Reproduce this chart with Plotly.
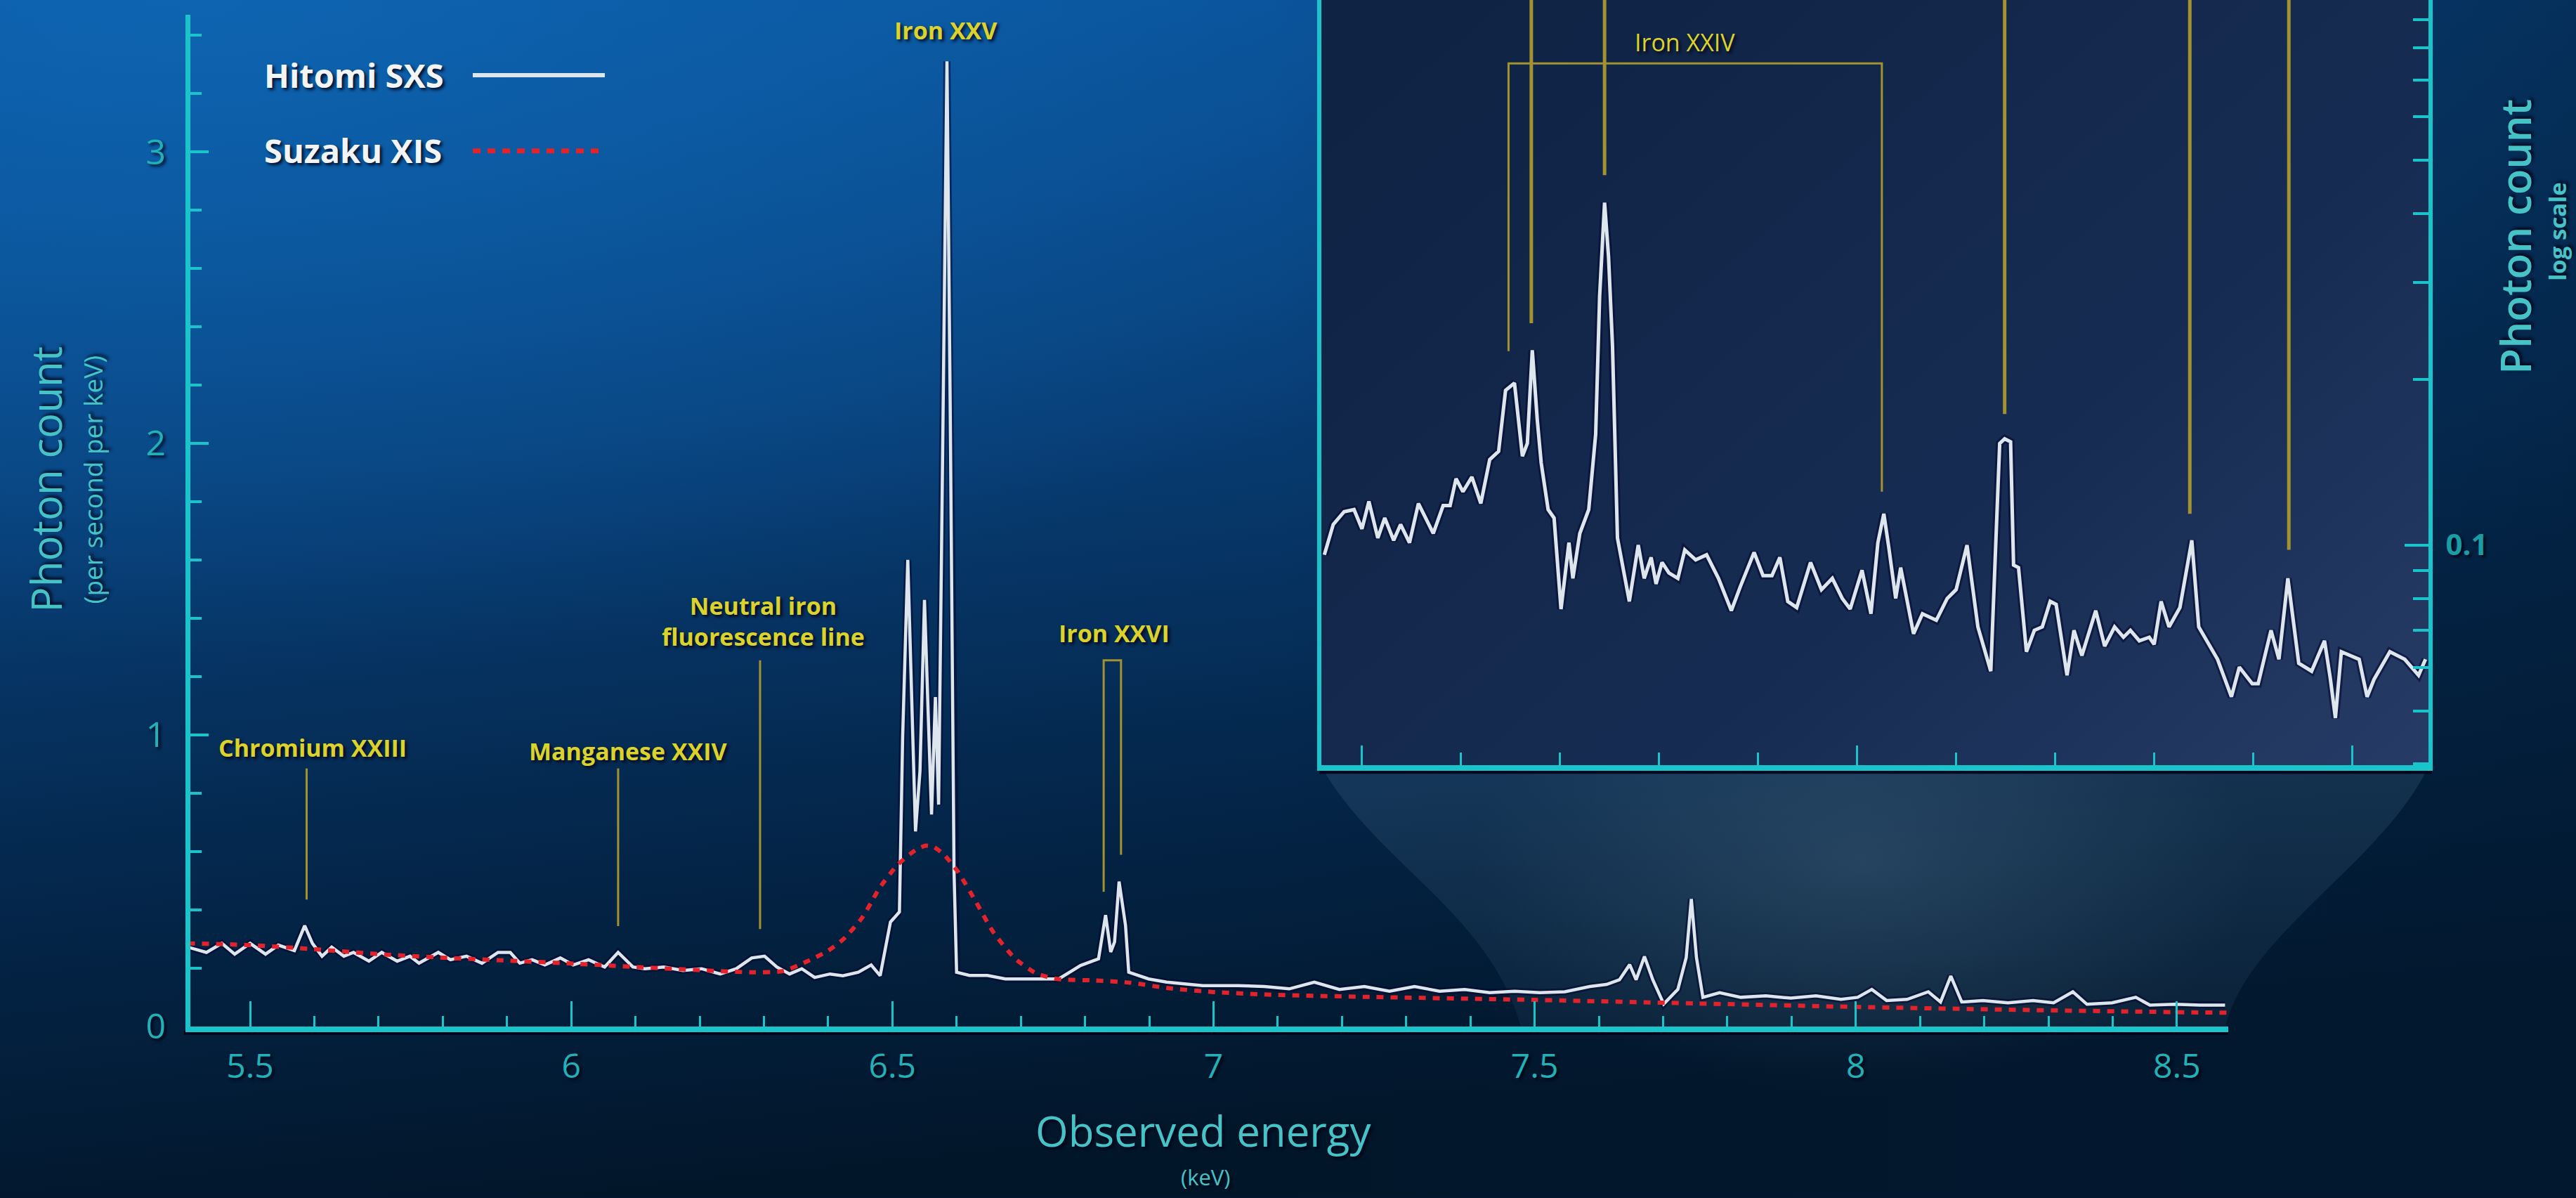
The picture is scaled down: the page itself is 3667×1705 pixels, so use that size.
import math
import base64
import plotly.graph_objects as go

W, H = 3667, 1705
SY = 0.982  # measured vertical compression of the rendered page; positions are pre-compensated

# ---------------- data ----------------
hitomi_energy = [5.403, 5.432, 5.456, 5.476, 5.500, 5.524, 5.544, 5.569, 5.585, 5.597, 5.612, 5.627,
                 5.646, 5.661, 5.685, 5.705, 5.729, 5.749, 5.763, 5.793, 5.812, 5.837, 5.861, 5.886,
                 5.905, 5.920, 5.939, 5.959, 5.983, 6.003, 6.027, 6.052, 6.073, 6.096, 6.115, 6.144,
                 6.174, 6.203, 6.232, 6.257, 6.281, 6.301, 6.320, 6.340, 6.359, 6.379, 6.403, 6.423,
                 6.447, 6.467, 6.481, 6.497, 6.511, 6.516, 6.524, 6.532, 6.536, 6.543, 6.550, 6.557,
                 6.561, 6.567, 6.572, 6.578, 6.585, 6.590, 6.596, 6.600, 6.620, 6.648, 6.676, 6.703,
                 6.731, 6.759, 6.793, 6.821, 6.832, 6.840, 6.846, 6.853, 6.863, 6.868, 6.899, 6.927,
                 6.983, 7.038, 7.079, 7.118, 7.157, 7.196, 7.235, 7.274, 7.313, 7.352, 7.391, 7.430,
                 7.469, 7.508, 7.547, 7.586, 7.612, 7.632, 7.648, 7.658, 7.671, 7.684, 7.701, 7.723,
                 7.736, 7.744, 7.752, 7.762, 7.788, 7.821, 7.860, 7.899, 7.938, 7.977, 8.003, 8.025,
                 8.048, 8.080, 8.113, 8.132, 8.148, 8.165, 8.198, 8.237, 8.276, 8.308, 8.338, 8.360,
                 8.399, 8.436, 8.458, 8.497, 8.536, 8.575]
hitomi_count = [0.272, 0.254, 0.285, 0.248, 0.285, 0.248, 0.279, 0.260, 0.346, 0.285, 0.241, 0.272,
                0.241, 0.254, 0.224, 0.254, 0.224, 0.241, 0.217, 0.254, 0.229, 0.241, 0.217, 0.254,
                0.254, 0.217, 0.229, 0.211, 0.235, 0.211, 0.229, 0.204, 0.254, 0.204, 0.198, 0.204,
                0.192, 0.198, 0.180, 0.198, 0.235, 0.241, 0.204, 0.180, 0.198, 0.168, 0.180, 0.174,
                0.186, 0.211, 0.174, 0.358, 0.393, 0.991, 1.600, 0.968, 0.669, 0.876, 1.463, 0.991,
                0.727, 1.130, 0.761, 1.911, 3.310, 2.140, 0.531, 0.186, 0.175, 0.175, 0.163, 0.163,
                0.163, 0.163, 0.209, 0.232, 0.382, 0.255, 0.290, 0.497, 0.347, 0.186, 0.163, 0.152,
                0.140, 0.140, 0.137, 0.129, 0.152, 0.127, 0.137, 0.121, 0.137, 0.121, 0.127, 0.116,
                0.121, 0.116, 0.119, 0.137, 0.144, 0.160, 0.212, 0.160, 0.240, 0.160, 0.077, 0.127,
                0.236, 0.437, 0.236, 0.100, 0.116, 0.100, 0.105, 0.097, 0.105, 0.093, 0.100, 0.127,
                0.089, 0.093, 0.119, 0.084, 0.173, 0.084, 0.089, 0.081, 0.089, 0.081, 0.119, 0.076,
                0.081, 0.100, 0.073, 0.076, 0.073, 0.073]

suzaku_energy = [5.403, 5.500, 5.600, 5.700, 5.800, 5.900, 6.000, 6.100, 6.200, 6.280, 6.330, 6.369,
                 6.400, 6.424, 6.452, 6.467, 6.480, 6.508, 6.536, 6.552, 6.565, 6.580, 6.602, 6.630,
                 6.657, 6.691, 6.725, 6.759, 6.815, 6.871, 6.927, 7.000, 7.100, 7.250, 7.500, 7.750,
                 8.000, 8.250, 8.500, 8.580]
suzaku_count = [0.285, 0.279, 0.265, 0.248, 0.236, 0.226, 0.216, 0.204, 0.193, 0.186, 0.190, 0.225,
                0.260, 0.300, 0.370, 0.425, 0.475, 0.554, 0.605, 0.620, 0.615, 0.590, 0.531, 0.428,
                0.324, 0.233, 0.181, 0.162, 0.158, 0.150, 0.132, 0.118, 0.108, 0.101, 0.091, 0.079,
                0.067, 0.057, 0.049, 0.047]

inset_energy = [7.462, 7.471, 7.482, 7.492, 7.500, 7.507, 7.516, 7.523, 7.532, 7.539, 7.548, 7.557,
                7.572, 7.582, 7.589, 7.595, 7.602, 7.611, 7.620, 7.629, 7.638, 7.645, 7.654, 7.662,
                7.667, 7.672, 7.677, 7.681, 7.688, 7.694, 7.701, 7.709, 7.713, 7.720, 7.729, 7.736,
                7.740, 7.745, 7.749, 7.753, 7.758, 7.770, 7.779, 7.785, 7.792, 7.797, 7.803, 7.810,
                7.819, 7.826, 7.837, 7.848, 7.860, 7.873, 7.882, 7.896, 7.905, 7.914, 7.922, 7.930,
                7.939, 7.953, 7.964, 7.975, 7.985, 7.993, 8.005, 8.014, 8.021, 8.027, 8.032, 8.039,
                8.044, 8.057, 8.066, 8.080, 8.091, 8.100, 8.111, 8.122, 8.135, 8.144, 8.149, 8.155,
                8.158, 8.163, 8.171, 8.179, 8.187, 8.195, 8.201, 8.212, 8.219, 8.227, 8.241, 8.250,
                8.260, 8.269, 8.276, 8.285, 8.295, 8.300, 8.307, 8.315, 8.326, 8.338, 8.345, 8.364,
                8.378, 8.386, 8.399, 8.405, 8.418, 8.426, 8.435, 8.446, 8.459, 8.472, 8.478, 8.483,
                8.489, 8.499, 8.507, 8.515, 8.522, 8.538, 8.553, 8.567, 8.574]
inset_count = [0.096, 0.109, 0.115, 0.116, 0.107, 0.120, 0.103, 0.112, 0.102, 0.109, 0.101, 0.119,
               0.105, 0.118, 0.118, 0.132, 0.125, 0.133, 0.119, 0.143, 0.148, 0.191, 0.197, 0.145,
               0.153, 0.226, 0.169, 0.141, 0.116, 0.112, 0.0765, 0.101, 0.087, 0.105, 0.116, 0.159,
               0.283, 0.419, 0.334, 0.230, 0.103, 0.079, 0.100, 0.087, 0.095, 0.085, 0.093, 0.089,
               0.087, 0.098, 0.094, 0.096, 0.087, 0.076, 0.084, 0.097, 0.088, 0.088, 0.095, 0.079,
               0.077, 0.093, 0.083, 0.087, 0.080, 0.0765, 0.090, 0.075, 0.101, 0.114, 0.099, 0.080,
               0.091, 0.069, 0.075, 0.073, 0.080, 0.083, 0.100, 0.071, 0.059, 0.153, 0.156, 0.154,
               0.092, 0.091, 0.064, 0.070, 0.071, 0.079, 0.078, 0.058, 0.070, 0.063, 0.076, 0.0655,
               0.071, 0.068, 0.070, 0.067, 0.068, 0.066, 0.079, 0.071, 0.077, 0.102, 0.071, 0.062,
               0.053, 0.060, 0.056, 0.056, 0.070, 0.062, 0.087, 0.061, 0.059, 0.067, 0.057, 0.0485,
               0.064, 0.063, 0.062, 0.053, 0.057, 0.064, 0.062, 0.058, 0.062]

x_tick_values = [5.5, 6.0, 6.5, 7.0, 7.5, 8.0, 8.5]
x_tick_labels = ["5.5", "6", "6.5", "7", "7.5", "8", "8.5"]
y_tick_values = [0, 1, 2, 3]
y_tick_labels = ["0", "1", "2", "3"]
inset_x_major = [7.5, 8.0, 8.5]
inset_x_minor = [7.6, 7.7, 7.8, 7.9, 8.1, 8.2, 8.3, 8.4]
inset_y_major = [0.1, 1.0]
inset_y_labels = ["0.1", "1"]
inset_y_minor = [0.04, 0.05, 0.06, 0.07, 0.08, 0.09, 0.2, 0.3, 0.4, 0.5, 0.6, 0.7, 0.8, 0.9]

series_names = ["Hitomi SXS", "Suzaku XIS"]

# line labels on the main chart: (text, energy of label, count of label)
main_labels = ["Chromium XXIII", "Manganese XXIV", "Neutral iron<br>fluorescence line", "Iron XXV", "Iron XXVI"]
main_label_x = [5.597, 6.089, 6.299, 6.583, 6.845]
main_label_y = [0.957, 0.945, 1.389, 3.418, 1.349]
# marker lines: energy and vertical extent
marker_energy = [5.588, 6.073, 6.294]
marker_low = [0.435, 0.344, 0.334]
marker_high = [0.885, 0.885, 1.256]
fe26_energy = [6.829, 6.856]
fe26_low = [0.462, 0.589]
fe26_top = 1.256

# inset line markers
fe24_energy = [7.648, 8.025]
fe24_low = [0.225, 0.125]
fe24_top = 0.75
inset_marker_energy = [7.671, 7.745, 8.149, 8.336, 8.436]
inset_marker_low = [0.253, 0.47, 0.173, 0.114, 0.098]

# ---------------- styles ----------------
CYAN = "#19c4cb"
TEAL = "#22b1b6"
TITLE = "#46c3c6"
YEL = "#dcd22c"
YEL_LINE = "#a39230"
WHITE = "#dde6ec"
RED = "#e3232b"
FONT = "Open Sans"
SHADOW = "3px 3px 4px rgba(0,0,20,0.85)"


def px(x):
    return x / W


def py(y):
    return 1 - (y / SY) / H


# ---------------- background (svg, in reference pixel coordinates) ----------------
svg = f"""<svg xmlns='http://www.w3.org/2000/svg' width='{W}' height='{H}' viewBox='0 0 {W} {H}' preserveAspectRatio='none'>
<defs>
<linearGradient id='bg' x1='0' y1='0' x2='0.22' y2='1'>
<stop offset='0' stop-color='#0a57a3'/>
<stop offset='0.40' stop-color='#083f78'/>
<stop offset='0.72' stop-color='#04264a'/>
<stop offset='1' stop-color='#02162a'/>
</linearGradient>
<radialGradient id='hl' cx='0.08' cy='0.0' r='0.55'>
<stop offset='0' stop-color='#0f68b5' stop-opacity='0.75'/>
<stop offset='1' stop-color='#0f68b5' stop-opacity='0'/>
</radialGradient>
<linearGradient id='rt' x1='0' y1='0' x2='1' y2='0'>
<stop offset='0' stop-color='#021a33' stop-opacity='0'/>
<stop offset='1' stop-color='#021a33' stop-opacity='0.55'/>
</linearGradient>
<linearGradient id='inset' x1='0' y1='0.2' x2='1' y2='1'>
<stop offset='0' stop-color='#0f2345'/>
<stop offset='0.6' stop-color='#172c52'/>
<stop offset='1' stop-color='#263c66'/>
</linearGradient>
<linearGradient id='fun' x1='0' y1='0' x2='0' y2='1'>
<stop offset='0' stop-color='#6d98b8' stop-opacity='0.16'/>
<stop offset='1' stop-color='#6d98b8' stop-opacity='0.08'/>
</linearGradient>
<radialGradient id='glow' cx='0.5' cy='0.5' r='0.5'>
<stop offset='0' stop-color='#8fb4cc' stop-opacity='0.16'/>
<stop offset='1' stop-color='#8fb4cc' stop-opacity='0'/>
</radialGradient>
</defs>
<rect width='{W}' height='{H}' fill='url(#bg)'/>
<rect width='{W}' height='{H}' fill='url(#hl)'/>
<rect x='1800' width='1867' height='{H}' fill='url(#rt)'/>
<path d='M1881,1092 C1960,1230 2120,1300 2165,1462 L3168,1462 C3200,1330 3390,1230 3457,1092 Z' fill='url(#fun)'/>
<ellipse cx='2650' cy='1230' rx='560' ry='330' fill='url(#glow)'/>
<rect x='1881' y='0' width='1576' height='1090' fill='url(#inset)'/>
</svg>"""
bg_uri = "data:image/svg+xml;base64," + base64.b64encode(svg.encode()).decode()

fig = go.Figure()

# ---------------- main chart traces ----------------
for e, lo, hi in zip(marker_energy, marker_low, marker_high):
    fig.add_trace(go.Scatter(x=[e, e], y=[lo, hi], mode="lines", line=dict(color=YEL_LINE, width=3),
                             hoverinfo="skip", showlegend=False, xaxis="x", yaxis="y"))
fig.add_trace(go.Scatter(x=[fe26_energy[0], fe26_energy[0], fe26_energy[1], fe26_energy[1]],
                         y=[fe26_low[0], fe26_top, fe26_top, fe26_low[1]], mode="lines",
                         line=dict(color=YEL_LINE, width=3), hoverinfo="skip", showlegend=False,
                         xaxis="x", yaxis="y"))

fig.add_trace(go.Scatter(x=hitomi_energy, y=hitomi_count, mode="lines",
                         line=dict(color="rgba(4,8,48,0.55)", width=10), hoverinfo="skip",
                         showlegend=False, xaxis="x", yaxis="y"))
fig.add_trace(go.Scatter(x=hitomi_energy, y=hitomi_count, mode="lines", name=series_names[0],
                         line=dict(color=WHITE, width=4.5), showlegend=False, xaxis="x", yaxis="y"))
fig.add_trace(go.Scatter(x=suzaku_energy, y=suzaku_count, mode="lines", name=series_names[1],
                         line=dict(color=RED, width=6, dash="10px,10px", shape="spline", smoothing=0.6),
                         showlegend=False, xaxis="x", yaxis="y"))

# ---------------- inset traces ----------------
fig.add_trace(go.Scatter(x=[fe24_energy[0], fe24_energy[0], fe24_energy[1], fe24_energy[1]],
                         y=[fe24_low[0], fe24_top, fe24_top, fe24_low[1]], mode="lines",
                         line=dict(color=YEL_LINE, width=3), hoverinfo="skip", showlegend=False,
                         xaxis="x2", yaxis="y2"))
for e, lo in zip(inset_marker_energy, inset_marker_low):
    fig.add_trace(go.Scatter(x=[e, e], y=[lo, 3.0], mode="lines", line=dict(color=YEL_LINE, width=5),
                             hoverinfo="skip", showlegend=False, xaxis="x2", yaxis="y2"))
fig.add_trace(go.Scatter(x=inset_energy, y=inset_count, mode="lines",
                         line=dict(color="rgba(4,8,48,0.55)", width=11), hoverinfo="skip",
                         showlegend=False, xaxis="x2", yaxis="y2"))
fig.add_trace(go.Scatter(x=inset_energy, y=inset_count, mode="lines", name=series_names[0] + " (log)",
                         line=dict(color=WHITE, width=5), showlegend=False, xaxis="x2", yaxis="y2"))

# ---------------- annotations ----------------
ann = []
for t, x, y in zip(main_labels, main_label_x, main_label_y):
    ann.append(dict(text=t, x=x, y=y, xref="x", yref="y", showarrow=False,
                    font=dict(family=FONT, size=34, color=YEL, weight=700, shadow=SHADOW),
                    xanchor="center", yanchor="middle"))
ann.append(dict(text="Iron XXIV", x=7.826, y=py(60), xref="x2", yref="paper", showarrow=False,
                font=dict(family=FONT, size=34, color=YEL, shadow=SHADOW), xanchor="center", yanchor="middle"))

# legend (text then line sample)
ann.append(dict(text="<b>" + series_names[0] + "</b>", x=px(374), y=py(107), xref="paper", yref="paper",
                showarrow=False, xanchor="left", yanchor="middle",
                font=dict(family=FONT, size=47, color="#f2f4f6", shadow=SHADOW)))
ann.append(dict(text="<b>" + series_names[1] + "</b>", x=px(374), y=py(214), xref="paper", yref="paper",
                showarrow=False, xanchor="left", yanchor="middle",
                font=dict(family=FONT, size=47, color="#f2f4f6", shadow=SHADOW)))


def title_ann(text, x, y, size, angle=0, weight=400):
    return dict(text=text, x=px(x), y=py(y), xref="paper", yref="paper", showarrow=False,
                xanchor="center", yanchor="middle", textangle=angle,
                font=dict(family=FONT, size=size, color=TITLE, weight=weight, shadow=SHADOW))


ann.append(title_ann("Photon count", 65, 683, 60, -90))
ann.append(title_ann("(per second per keV)", 131, 683, 37, -90))
ann.append(title_ann("Observed energy", 1713, 1610, 60))
ann.append(title_ann("(keV)", 1716, 1676, 31))
ann.append(title_ann("Photon count", 3580, 337, 60, -90, 600))
ann.append(title_ann("log scale", 3641, 330, 33, -90, 700))

shapes = [
    dict(type="line", xref="paper", yref="paper", x0=px(673), x1=px(861), y0=py(107), y1=py(107),
         line=dict(color=WHITE, width=6)),
    dict(type="line", xref="paper", yref="paper", x0=px(673), x1=px(861), y0=py(215), y1=py(215),
         line=dict(color=RED, width=7, dash="11px,10px")),
    # dark shadows under the cyan axis lines
    dict(type="line", xref="paper", yref="paper", x0=px(262), x1=px(3172), y0=py(1471), y1=py(1471),
         line=dict(color="rgba(0,0,20,0.85)", width=6), layer="below"),
    dict(type="line", xref="paper", yref="paper", x0=px(1878), x1=px(3462), y0=py(1099), y1=py(1099),
         line=dict(color="rgba(0,0,20,0.85)", width=6), layer="below"),
]

fig.update_layout(
    width=W, height=H, margin=dict(l=0, r=0, t=0, b=0),
    paper_bgcolor="#03182e", plot_bgcolor="rgba(0,0,0,0)",
    showlegend=False,
    images=[dict(source=bg_uri, xref="paper", yref="paper", x=0, y=1, sizex=1, sizey=1 / SY,
                 sizing="stretch", layer="below", xanchor="left", yanchor="top")],
    annotations=ann, shapes=shapes,
    xaxis=dict(domain=[px(271), px(3172)], range=[5.407, 8.580], anchor="y",
               showgrid=False, zeroline=False, showline=True, linecolor=CYAN, linewidth=8,
               tickmode="array", tickvals=x_tick_values, ticktext=x_tick_labels,
               ticks="inside", ticklen=36, tickwidth=3, tickcolor=CYAN,
               minor=dict(ticks="inside", dtick=0.1, tick0=5.5, ticklen=15, tickwidth=3, tickcolor=CYAN),
               tickfont=dict(family=FONT, size=48, color=TEAL, shadow=SHADOW), ticklabelstandoff=8),
    yaxis=dict(domain=[py(1462), py(21)], range=[0, 3.47], anchor="x",
               showgrid=False, zeroline=False, showline=True, linecolor=CYAN, linewidth=7,
               tickmode="array", tickvals=y_tick_values, ticktext=y_tick_labels,
               ticks="inside", ticklen=26, tickwidth=4, tickcolor=CYAN,
               minor=dict(ticks="inside", dtick=0.2, tick0=0, ticklen=16, tickwidth=4, tickcolor=CYAN),
               tickfont=dict(family=FONT, size=50, color=TEAL, shadow=SHADOW), ticklabelstandoff=18),
    xaxis2=dict(domain=[px(1881), px(3457)], range=[7.459, 8.577], anchor="y2",
                showgrid=False, zeroline=False, showline=True, linecolor=CYAN, linewidth=8,
                tickmode="array", tickvals=inset_x_major, showticklabels=False,
                ticks="inside", ticklen=28, tickwidth=3, tickcolor=CYAN,
                minor=dict(ticks="inside", tickmode="array", tickvals=inset_x_minor, ticklen=18,
                           tickwidth=3, tickcolor=CYAN)),
    yaxis2=dict(domain=[py(1090), 1.0], type="log", range=[math.log10(0.0398), math.log10(0.978)],
                anchor="x2", side="right", mirror=True,
                showgrid=False, zeroline=False, showline=True, linecolor=CYAN, linewidth=6,
                tickmode="array", tickvals=inset_y_major, ticktext=inset_y_labels,
                ticks="inside", ticklen=34, tickwidth=4, tickcolor=CYAN,
                minor=dict(ticks="inside", tickmode="array", tickvals=inset_y_minor, ticklen=22,
                           tickwidth=4, tickcolor=CYAN),
                tickfont=dict(family=FONT, size=42, color="#1a9ea3", weight=700, shadow=SHADOW),
                ticklabelstandoff=10),
)

fig.write_html("out.html")
